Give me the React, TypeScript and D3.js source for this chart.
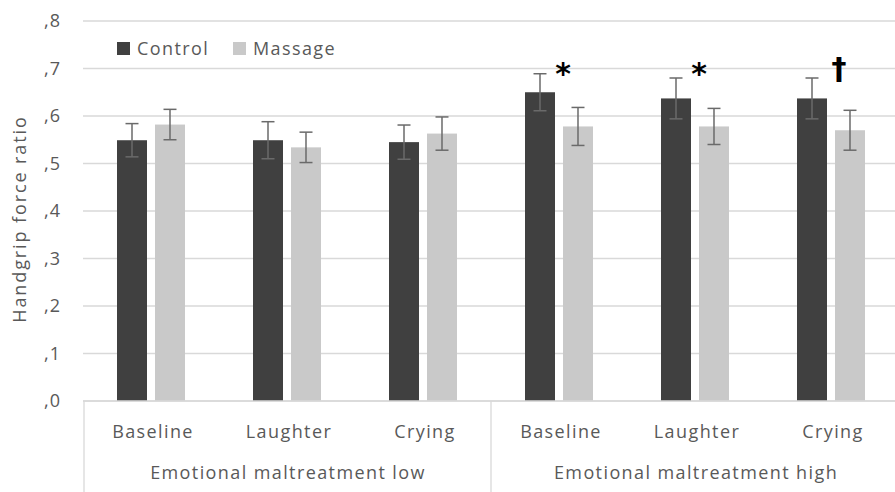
import React from "react";
import * as d3 from "d3";

const groups = ["Emotional maltreatment low", "Emotional maltreatment high"];
const conditions = ["Baseline", "Laughter", "Crying"];
const series = ["Control", "Massage"];
const controlValues = [0.549, 0.549, 0.545, 0.650, 0.637, 0.637];
const controlErrors = [0.035, 0.039, 0.036, 0.039, 0.043, 0.043];
const massageValues = [0.582, 0.534, 0.563, 0.578, 0.578, 0.570];
const massageErrors = [0.032, 0.032, 0.035, 0.040, 0.038, 0.042];
const markers = ["", "", "", "*", "*", "†"];
const yTicks = [0, 0.1, 0.2, 0.3, 0.4, 0.5, 0.6, 0.7, 0.8];

const W = 895;
const H = 492;
const left = 83;
const right = 899;
const top = 21;
const bottom = 401;
const textColor = "#595959";
const gridColor = "#d9d9d9";
const colors = ["#404040", "#c9c9c9"];
const font = "'Open Sans', sans-serif";
const fs = 18;
const ls = 1.4;

export default function App() {
  const keys = groups.flatMap((g) => conditions.map((c) => g + "|" + c));
  const x0 = d3.scaleBand().domain(keys).range([left, right]).padding(0);
  const step = x0.bandwidth();
  const x1 = d3
    .scaleBand()
    .domain(series)
    .range([step * 0.25, step * 0.75])
    .paddingInner(0.2105)
    .paddingOuter(0);
  const y = d3.scaleLinear().domain([0, 0.8]).range([bottom, top]);
  const fmt = (v: number) => d3.format(".1f")(v).replace(/^0/, "").replace(".", ",");
  const values = [controlValues, massageValues];
  const errors = [controlErrors, massageErrors];
  const groupX = d3.scaleBand().domain(groups).range([left, right]);

  return (
    <svg
      width={W}
      height={H}
      style={{ position: "absolute", left: 0, top: 0, display: "block", background: "#fff" }}
      fontFamily={font}
    >
      {yTicks.map((t) => (
        <g key={t}>
          <line x1={left} x2={right} y1={y(t)} y2={y(t)} stroke={gridColor} strokeWidth={1.3} />
          <text x={61} y={y(t)} dy="0.35em" textAnchor="end" fontSize={fs} letterSpacing={1} fill={textColor}>
            {fmt(t)}
          </text>
        </g>
      ))}
      <text
        transform={`translate(20,${(top + bottom) / 2 + 8}) rotate(-90)`}
        textAnchor="middle"
        dy="0.35em"
        fontSize={fs}
        letterSpacing={1.9}
        fill={textColor}
      >
        Handgrip force ratio
      </text>
      {keys.map((k, i) =>
        series.map((s, j) => {
          const v = values[j][i];
          const e = errors[j][i];
          const bx = (x0(k) as number) + (x1(s) as number);
          const bw = x1.bandwidth();
          const cx = bx + bw / 2;
          return (
            <g key={k + s}>
              <rect x={bx} y={y(v)} width={bw} height={bottom - y(v)} fill={colors[j]} />
              <line x1={cx} x2={cx} y1={y(v + e)} y2={y(v - e)} stroke="#6a6a6a" strokeWidth={1.5} />
              <line x1={cx - 6.5} x2={cx + 6.5} y1={y(v + e)} y2={y(v + e)} stroke="#6a6a6a" strokeWidth={1.5} />
              <line x1={cx - 6.5} x2={cx + 6.5} y1={y(v - e)} y2={y(v - e)} stroke="#6a6a6a" strokeWidth={1.5} />
            </g>
          );
        })
      )}
      {keys.map((k, i) =>
        markers[i] ? (
          <text
            key={"m" + k}
            x={(x0(k) as number) + step / 2 + (markers[i] === "†" ? 8 : 4)}
            y={y(0.7) + (markers[i] === "†" ? 10 : 15)}
            textAnchor="middle"
            fontSize={30}
            fontWeight="bold"
            fontFamily="'DejaVu Sans', sans-serif"
            fill="#000"
          >
            {markers[i]}
          </text>
        ) : null
      )}
      <line x1={left} x2={right} y1={bottom} y2={bottom} stroke={gridColor} strokeWidth={1.3} />
      {[left + 1, (groupX(groups[1]) as number)].map((xx, i) => (
        <line key={"v" + i} x1={xx} x2={xx} y1={bottom} y2={H} stroke={gridColor} strokeWidth={1.3} />
      ))}
      {keys.map((k, i) => (
        <text
          key={"c" + k}
          x={(x0(k) as number) + step / 2 + 2}
          y={432}
          dy="0.35em"
          textAnchor="middle"
          fontSize={fs}
          letterSpacing={ls}
          fill={textColor}
        >
          {conditions[i % conditions.length]}
        </text>
      ))}
      {groups.map((g) => (
        <text
          key={g}
          x={(groupX(g) as number) + groupX.bandwidth() / 2 + 1}
          y={473}
          dy="0.35em"
          textAnchor="middle"
          fontSize={fs}
          letterSpacing={ls}
          fill={textColor}
        >
          {g}
        </text>
      ))}
      {series.map((s, j) => {
        const lx = [117, 233][j];
        return (
          <g key={"l" + s}>
            <rect x={lx} y={42} width={13} height={13} fill={colors[j]} />
            <text x={lx + 20} y={48.5} dy="0.35em" fontSize={fs} letterSpacing={ls} fill={textColor}>
              {s}
            </text>
          </g>
        );
      })}
    </svg>
  );
}
